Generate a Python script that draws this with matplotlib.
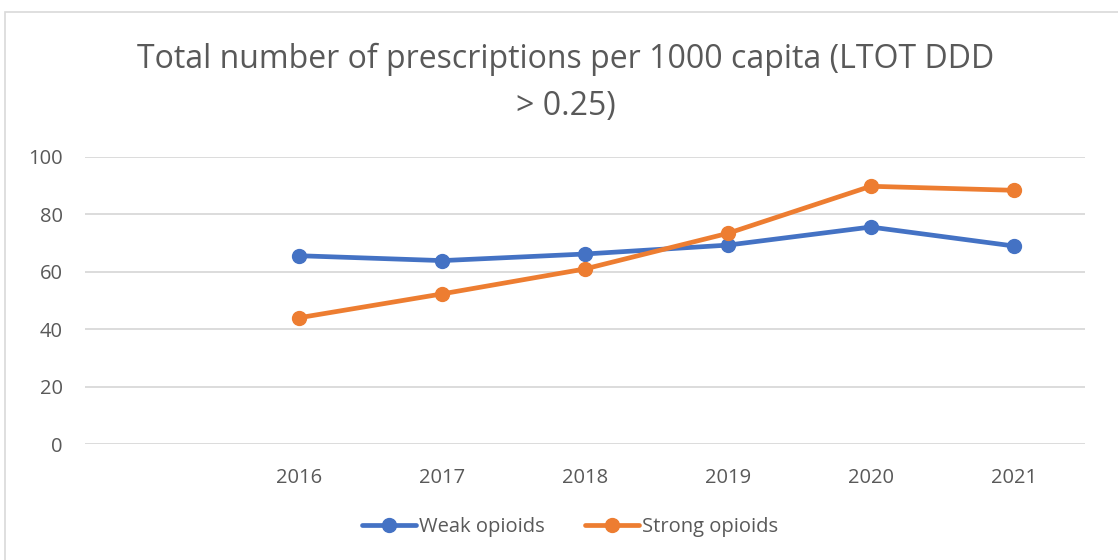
import matplotlib.pyplot as plt
from matplotlib.patches import Rectangle

# blank first slot keeps the empty category to the left of 2016
years = ["", "2016", "2017", "2018", "2019", "2020", "2021"]
weak = [None, 65.6, 63.9, 66.2, 69.3, 75.6, 69.0]
strong = [None, 44.0, 52.3, 61.0, 73.4, 89.8, 88.4]

plt.rcParams['font.family'] = ['Open Sans', 'DejaVu Sans']
text_col = '#595959'

fig = plt.figure(figsize=(11.18, 5.6), dpi=100)
fig.patches.append(Rectangle((5 / 1118, -0.1), 1.2, 1 - 12 / 560 + 0.1,
                             transform=fig.transFigure, fill=False,
                             edgecolor='#d9d9d9', linewidth=1.2))

ax = fig.add_axes([85 / 1118, 1 - 444 / 560, 1000 / 1118, 287 / 560])
x = list(range(len(years)))
wx = [i for i, v in zip(x, weak) if v is not None]
wv = [v for v in weak if v is not None]
sx = [i for i, v in zip(x, strong) if v is not None]
sv = [v for v in strong if v is not None]

ax.plot(wx, wv, color='#4472c4', lw=3.4, marker='o', ms=10,
        label='Weak opioids', solid_capstyle='round', zorder=3)
ax.plot(sx, sv, color='#ed7d31', lw=3.4, marker='o', ms=10,
        label='Strong opioids', solid_capstyle='round', zorder=3)

ax.set_xlim(-0.5, len(years) - 0.5)
ax.set_ylim(0, 100)
ax.set_yticks(range(0, 101, 20))
ax.set_xticks(x)
ax.set_xticklabels(years)
ax.yaxis.grid(True, color='#d9d9d9', lw=1.3)
ax.set_axisbelow(True)
for s in ax.spines.values():
    s.set_visible(False)
ax.tick_params(length=0, labelsize=14.5, colors=text_col)
ax.tick_params(axis='x', pad=17)
ax.tick_params(axis='y', pad=16)

fig.text(566 / 1118, 1 - 83 / 560, 'Total number of prescriptions per 1000 capita (LTOT DDD\n> 0.25)',
         ha='center', va='center', fontsize=23, color=text_col, linespacing=1.55)

fig.legend(loc='center', bbox_to_anchor=(570 / 1118, 1 - 527 / 560), ncol=2,
           frameon=False, fontsize=14.5, labelcolor=text_col, handlelength=2.7,
           handletextpad=0.15, columnspacing=2.0)

fig.savefig('out.png', dpi=100)
